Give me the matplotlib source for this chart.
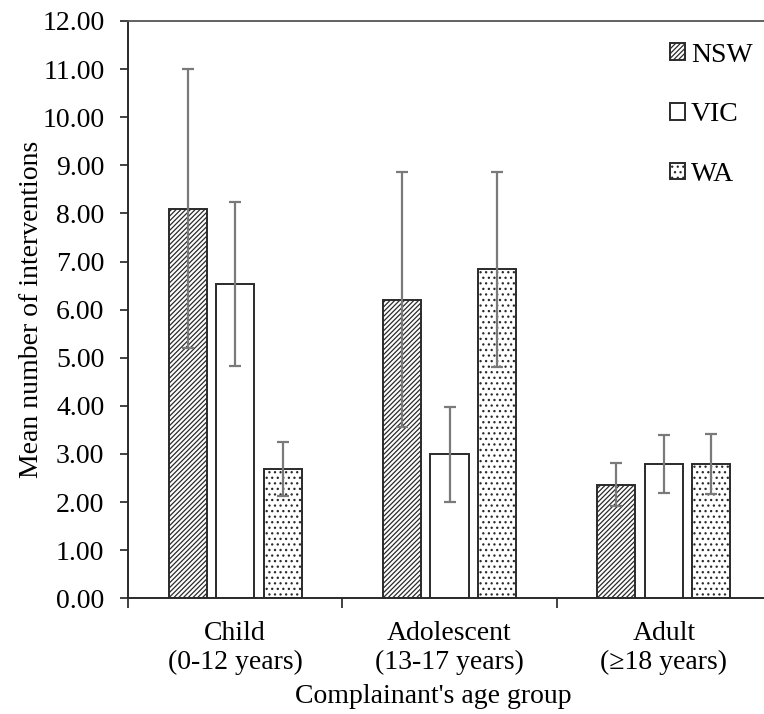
import matplotlib
matplotlib.use("Agg")
import matplotlib.pyplot as plt
import numpy as np

plt.rcParams['font.family'] = ['Liberation Serif', 'DejaVu Serif']
plt.rcParams['hatch.linewidth'] = 0.9

categories = ["Child\n(0-12 years)", "Adolescent\n(13-17 years)", "Adult\n(\u226518 years)"]
series = ["NSW", "VIC", "WA"]
means = {
    "NSW": [8.10, 6.20, 2.35],
    "VIC": [6.53, 3.00, 2.80],
    "WA":  [2.69, 6.84, 2.80],
}
err_upper = {
    "NSW": [11.00, 8.86, 2.81],
    "VIC": [8.23, 3.97, 3.40],
    "WA":  [3.24, 8.87, 3.41],
}
err_lower = {
    "NSW": [5.20, 3.57, 1.91],
    "VIC": [4.83, 2.01, 2.18],
    "WA":  [2.13, 4.80, 2.17],
}
yticks = np.arange(0, 13, 1)

hatches = {"NSW": "///////", "VIC": "", "WA": "..."}

FS = 20

fig = plt.figure(figsize=(7.64, 7.14), dpi=100)
ax = fig.add_axes([128/764, (714-598.3)/714, (771-128)/764, (598.3-21)/714])

x = np.arange(len(categories))
width = 0.178
step = 0.222
for i, s in enumerate(series):
    pos = x + (i - 1) * step
    vals = np.array(means[s])
    lo = vals - np.array(err_lower[s])
    hi = np.array(err_upper[s]) - vals
    ax.bar(pos, vals, width, color="white", edgecolor="#2a2a2a", linewidth=1.4,
           hatch=hatches[s], label=s, zorder=2)
    ax.errorbar(pos, vals, yerr=[lo, hi], fmt="none", ecolor="#7a7a7a",
                elinewidth=1.6, capsize=4, capthick=1.6, zorder=3)

ax.set_xlim(-0.5, 2.5)
ax.set_ylim(0, 12)
ax.set_yticks(yticks)
ax.set_yticklabels([f"{v:.2f}" for v in yticks], fontsize=FS)
ax.set_xticks(x)
ax.set_xticklabels(categories, fontsize=FS, linespacing=1.25)
ax.set_xticks([-0.5, 0.5, 1.5, 2.5], minor=True)
ax.tick_params(axis="x", which="major", length=0, pad=16)
ax.tick_params(axis="x", which="minor", length=7, width=1.3, direction="out", color="#333333")
ax.tick_params(axis="y", length=6, width=1.3, direction="out", pad=11, color="#333333")

for side in ["left", "bottom"]:
    ax.spines[side].set_linewidth(1.4)
    ax.spines[side].set_color("#2a2a2a")
ax.spines["top"].set_linewidth(1.3)
ax.spines["top"].set_color("#555555")
ax.spines["right"].set_visible(False)

ax.set_ylabel("Mean number of interventions", fontsize=FS)
ax.yaxis.set_label_coords((44-128)/643, 0.5)
ax.set_xlabel("Complainant's age group", fontsize=FS)
ax.xaxis.set_label_coords((433-128)/643, -0.148)

leg = ax.legend(loc="upper left", bbox_to_anchor=((659-128)/643, 0.982), frameon=False,
                fontsize=FS, handlelength=0.55, handleheight=0.55, handletextpad=0.2,
                labelspacing=1.25, borderaxespad=0)

fig.savefig("out.png", dpi=100)
